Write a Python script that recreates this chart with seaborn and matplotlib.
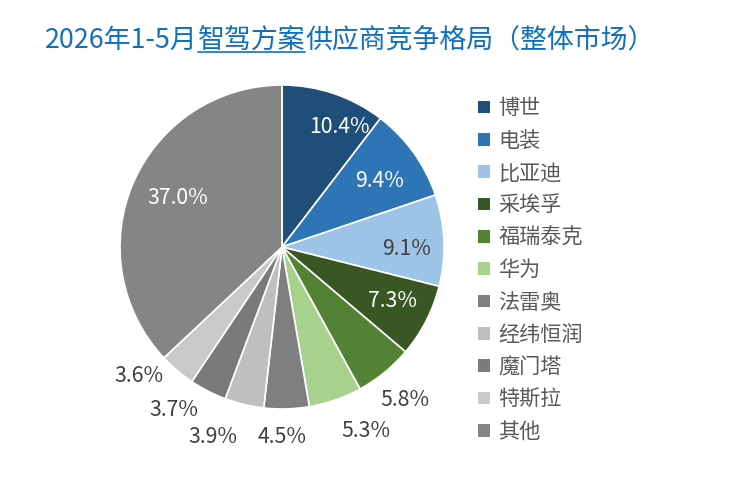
import matplotlib
matplotlib.use("Agg")
import matplotlib.pyplot as plt
import numpy as np
import seaborn as sns
from matplotlib.patches import Patch
from matplotlib.lines import Line2D

# =====================================================
# DATA
# =====================================================

suppliers = ["博世", "电装", "比亚迪", "采埃孚", "福瑞泰克", "华为",
             "法雷奥", "经纬恒润", "魔门塔", "特斯拉", "其他"]
shares = [10.4, 9.4, 9.1, 7.3, 5.8, 5.3, 4.5, 3.9, 3.7, 3.6, 37.0]

colors = ["#1F4E79", "#2E75B6", "#9DC3E6", "#385723", "#548235", "#A9D18E",
          "#7F7F7F", "#BFBFBF", "#7A7A7A", "#C9C9C9", "#858585"]

label_colors = ["white", "white", "#404040", "white", "#404040", "#404040",
                "#404040", "#404040", "#404040", "#404040", "white"]

# label placement: angle tweak (deg) from slice middle, distance (radius units)
label_turn = [-7, -1.6, -3.3, 1.2, -0.4, 5.1, -1.6, -6.5, -6.3, -7.7, -1.6]
label_dist = [0.82, 0.73, 0.77, 0.76, 1.21, 1.25, 1.17, 1.25, 1.21, 1.19, 0.71]

# =====================================================
# STYLE
# =====================================================

sns.set_theme(style="white")
plt.rcParams["font.family"] = ["Noto Sans CJK SC", "DejaVu Sans"]

W, H = 732, 497
fig = plt.figure(figsize=(W / 100, H / 100), dpi=100)

cx, cy, r = 282, 247, 162
ax = fig.add_axes([(cx - r) / W, (H - cy - r) / H, 2 * r / W, 2 * r / H])

wedges, _ = ax.pie(
    shares,
    colors=colors,
    startangle=90,
    counterclock=False,
    radius=1,
    wedgeprops=dict(edgecolor="white", linewidth=1.2),
)
ax.set_xlim(-1, 1)
ax.set_ylim(-1, 1)
ax.set_aspect("equal")
ax.axis("off")

# =====================================================
# PERCENT LABELS
# =====================================================

for i, w in enumerate(wedges):
    ang = np.deg2rad((w.theta1 + w.theta2) / 2 + label_turn[i])
    dist = label_dist[i]
    ax.text(
        dist * np.cos(ang),
        dist * np.sin(ang),
        f"{shares[i]:.1f}%",
        ha="center",
        va="center",
        fontsize=15.3,
        color=label_colors[i],
    )

# =====================================================
# LEGEND
# =====================================================

handles = [Patch(facecolor=c, edgecolor="none") for c in colors]
fig.legend(
    handles,
    suppliers,
    loc="upper left",
    bbox_to_anchor=(470 / W, 1 - 89 / H),
    frameon=False,
    fontsize=15.2,
    labelcolor="#595959",
    handlelength=0.53,
    handleheight=0.53,
    handletextpad=0.42,
    labelspacing=0.49,
    borderaxespad=0,
)

# =====================================================
# TITLE (middle part underlined)
# =====================================================

title_color = "#1070C0"
t1 = fig.text(45 / W, 1 - 40 / H, "2026年1-5月", fontsize=19.4,
              color=title_color, va="center", ha="left")
t2 = ax.annotate("智驾方案", xy=(1, 0), xycoords=t1, va="bottom",
                 ha="left", fontsize=19.4, color=title_color,
                 annotation_clip=False)
t3 = ax.annotate("供应商竞争格局（整体市场）", xy=(1, 0), xycoords=t2,
                 va="bottom", ha="left", fontsize=19.4, color=title_color,
                 annotation_clip=False)

fig.canvas.draw()
bb = t2.get_window_extent()
uy = bb.y0 + 2
fig.add_artist(Line2D([bb.x0 / W, bb.x1 / W], [uy / H, uy / H],
                      transform=fig.transFigure, color=title_color,
                      linewidth=1.2))

fig.savefig("out.png", dpi=100)
